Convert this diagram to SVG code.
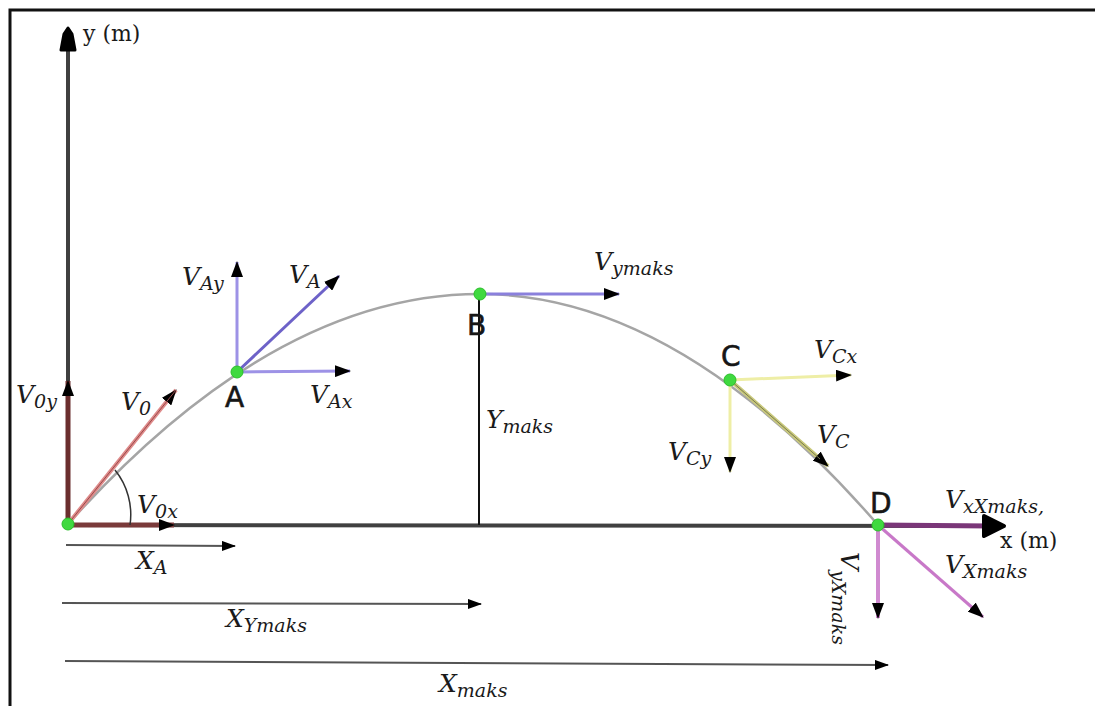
<svg xmlns="http://www.w3.org/2000/svg" width="1095" height="706" viewBox="0 0 1095 706">
<style>
.v{font-family:"DejaVu Serif","Liberation Serif",serif;font-style:italic;font-size:25px;fill:#1a1a1a}
.s{font-size:19px}
.ax{font-family:"DejaVu Serif","Liberation Serif",serif;font-size:22px;fill:#1a1a1a}
.pt{font-family:"DejaVu Sans","Liberation Sans",sans-serif;font-size:28px;fill:#161616;stroke:#161616;stroke-width:0.6}
.dot{fill:#3fd93f;stroke:#2bc02b;stroke-width:1}
</style>
<defs>
<marker id="ah" viewBox="0 0 16 12" refX="15" refY="6" markerWidth="16" markerHeight="12" markerUnits="userSpaceOnUse" orient="auto">
<path d="M0,0 L16,6 L0,12 z" fill="#000"/>
</marker>
<marker id="ahs" viewBox="0 0 14 10" refX="13" refY="5" markerWidth="14" markerHeight="10" markerUnits="userSpaceOnUse" orient="auto">
<path d="M0,0 L14,5 L0,10 z" fill="#000"/>
</marker>
</defs>
<rect width="1095" height="706" fill="#fff"/>
<path d="M10,706 V10 H1095" fill="none" stroke="#111" stroke-width="3"/>

<g id="connectors" fill="none">
  <line x1="68" y1="524" x2="68" y2="50" stroke="#404040" stroke-width="4"/>
  <path d="M61,50 L75,50 L72,34 L68,28 L64,34 Z" fill="#000" stroke="#000" stroke-width="3" stroke-linejoin="round"/>
  <line x1="68" y1="525" x2="990" y2="526" stroke="#404040" stroke-width="4"/>
  <path d="M68,524 Q274,294 480,294 Q678,294 878,525" stroke="#a5a5a5" stroke-width="2.5"/>
  <line x1="68" y1="524" x2="68" y2="381" stroke="#6b2e2e" stroke-width="5" marker-end="url(#ah)"/>
  <line x1="68" y1="524" x2="176" y2="390" stroke="#de8a8a" stroke-width="4" marker-end="url(#ah)"/>
  <line x1="68" y1="524" x2="176" y2="390" stroke="#9a4a4a" stroke-width="1"/>
  <line x1="68" y1="525" x2="174" y2="525" stroke="#7a3a3a" stroke-width="5" marker-end="url(#ah)"/>
  <path d="M115,470 A71,71 0 0 1 130,525" stroke="#333" stroke-width="1.5"/>
  <line x1="237" y1="372" x2="237" y2="262" stroke="#9d92e6" stroke-width="3" marker-end="url(#ah)"/>
  <line x1="237" y1="372" x2="339" y2="276" stroke="#6d62c8" stroke-width="3" marker-end="url(#ah)"/>
  <line x1="237" y1="372" x2="350" y2="371" stroke="#9d92e6" stroke-width="3" marker-end="url(#ah)"/>
  <line x1="480" y1="294" x2="619" y2="294" stroke="#8a80dc" stroke-width="3" marker-end="url(#ah)"/>
  <line x1="479" y1="294" x2="479" y2="525" stroke="#111" stroke-width="2"/>
  <line x1="730" y1="380" x2="851" y2="375" stroke="#eeeea6" stroke-width="3" marker-end="url(#ah)"/>
  <line x1="730" y1="380" x2="730" y2="472" stroke="#eeeea6" stroke-width="3" marker-end="url(#ah)"/>
  <line x1="730" y1="380" x2="828" y2="466" stroke="#c8c87a" stroke-width="4" marker-end="url(#ah)"/>
  <line x1="730" y1="380" x2="820" y2="459" stroke="#7a7a50" stroke-width="1"/>
  <line x1="878" y1="525" x2="990" y2="526" stroke="#7a3678" stroke-width="5"/>
  <path d="M984,516 L1004,526 L984,536 Z" fill="#000" stroke="#000" stroke-width="4" stroke-linejoin="round"/>
  <line x1="878" y1="525" x2="878" y2="618" stroke="#d08ad0" stroke-width="4" marker-end="url(#ah)"/>
  <line x1="878" y1="525" x2="983" y2="617" stroke="#c878c8" stroke-width="3" marker-end="url(#ah)"/>
  <line x1="66" y1="545" x2="235" y2="546" stroke="#555" stroke-width="2" marker-end="url(#ahs)"/>
  <line x1="62" y1="603" x2="481" y2="604" stroke="#555" stroke-width="2" marker-end="url(#ahs)"/>
  <line x1="65" y1="661" x2="888" y2="665" stroke="#555" stroke-width="2" marker-end="url(#ahs)"/>
</g>

<g id="origin">
  <circle class="dot" cx="68" cy="524" r="6"/>
  <text class="v" x="16" y="403">V<tspan class="s" dy="5">0y</tspan></text>
  <text class="v" x="121" y="410">V<tspan class="s" dy="5">0</tspan></text>
  <text class="v" x="137" y="513">V<tspan class="s" dy="5">0x</tspan></text>
  <text class="ax" x="83" y="41">y (m)</text>
</g>
<g id="A">
  <circle class="dot" cx="237" cy="372" r="6"/>
  <text class="pt" x="225" y="407">A</text>
  <text class="v" x="182" y="285">V<tspan class="s" dy="5">Ay</tspan></text>
  <text class="v" x="289" y="283">V<tspan class="s" dy="5">A</tspan></text>
  <text class="v" x="310" y="403">V<tspan class="s" dy="5">Ax</tspan></text>
  <text class="v" x="136" y="569">X<tspan class="s" dy="5">A</tspan></text>
</g>
<g id="B">
  <circle class="dot" cx="480" cy="294" r="6"/>
  <text class="pt" x="467" y="335">B</text>
  <text class="v" x="594" y="270">V<tspan class="s" dy="5">ymaks</tspan></text>
  <text class="v" x="486" y="428">Y<tspan class="s" dy="5">maks</tspan></text>
  <text class="v" x="226" y="627">X<tspan class="s" dy="5">Ymaks</tspan></text>
</g>
<g id="C">
  <circle class="dot" cx="730" cy="380" r="6"/>
  <text class="pt" x="721" y="366">C</text>
  <text class="v" x="814" y="358">V<tspan class="s" dy="5">Cx</tspan></text>
  <text class="v" x="668" y="460">V<tspan class="s" dy="5">Cy</tspan></text>
  <text class="v" x="817" y="443">V<tspan class="s" dy="5">C</tspan></text>
</g>
<g id="D">
  <circle class="dot" cx="878" cy="525" r="6"/>
  <text class="pt" x="870" y="513">D</text>
  <text class="v" x="945" y="508">V<tspan class="s" dy="5">xXmaks,</tspan></text>
  <text class="ax" x="1000" y="548">x (m)</text>
  <text class="v" x="945" y="573">V<tspan class="s" dy="5">Xmaks</tspan></text>
  <text class="v" transform="translate(841,552) rotate(90)" x="0" y="0">V<tspan class="s" dy="9">yXmaks</tspan></text>
  <text class="v" x="439" y="692">X<tspan class="s" dy="5">maks</tspan></text>
</g>
</svg>
